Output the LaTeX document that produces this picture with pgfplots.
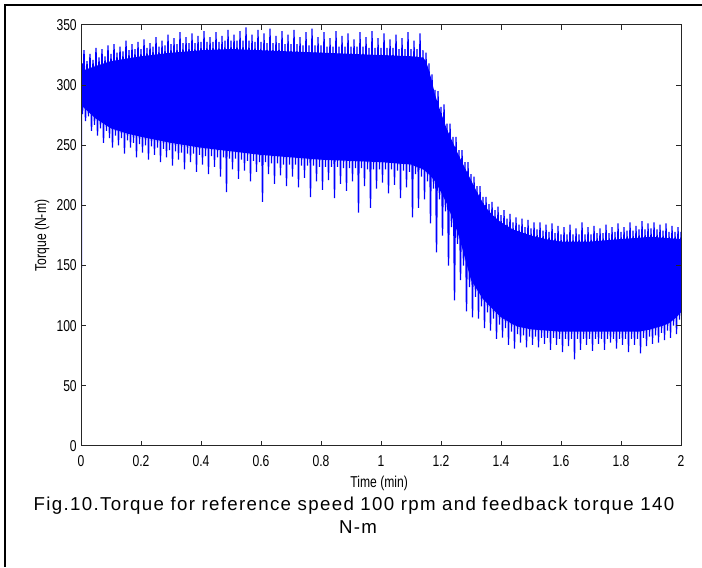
\documentclass[border=0pt]{standalone}
\usepackage{pgfplots}
\pgfplotsset{compat=1.18}
\usepgfplotslibrary{fillbetween}
\usepackage{fontspec}
\setmainfont{Liberation Sans}
\newfontfamily\narrowfont[FakeStretch=0.77]{Liberation Sans}
\newfontfamily\capfont[LetterSpace=7.2]{Liberation Sans}

\begin{document}
\begin{tikzpicture}
% page frame: 702 x 567 px at 0.75pt per px
\path (0,0) rectangle (526.5pt,425.25pt);
\fill (3pt,0) rectangle (4.5pt,422.25pt);
\fill (3pt,420.75pt) rectangle (526.5pt,422.25pt);
\begin{axis}[
    at={(60.75pt,90.75pt)}, anchor=south west,
    scale only axis, width=450pt, height=315.75pt,
    xmin=0, xmax=2, ymin=0, ymax=350,
    xtick={0,0.2,0.4,0.6,0.8,1,1.2,1.4,1.6,1.8,2},
    ytick={0,50,100,150,200,250,300,350},
    tick align=inside, xtick pos=both, ytick pos=both,
    major tick length=3.75pt,
    axis line style={line width=0.75pt, black!85},
    every tick/.style={black!85, line width=0.75pt},
    axis on top,
    /pgf/number format/assume math mode=true,
    tick label style={font=\narrowfont\fontsize{11.8pt}{12pt}\selectfont, inner sep=0pt},
    xticklabel style={anchor=base, yshift=-15.75pt},
    yticklabel style={anchor=east, xshift=-3pt},
    xlabel={Time (min)}, ylabel={Torque (N-m)},
    label style={font=\narrowfont\fontsize{11.8pt}{12pt}\selectfont},
    xlabel style={at={(axis description cs:0.497,-0.088)}, anchor=center},
    ylabel style={at={(axis description cs:-0.065,0.5)}, anchor=center},
]
% dense core of the band
\addplot[name path=UB, draw=none, forget plot] coordinates {
(0,0) (0.002,300) (0.005,312) (0.05,316) (0.1,320) (0.2,324) (0.3,327) (0.4,329) (0.5,330)
(0.6,329) (0.7,328) (0.8,327) (0.9,326) (1.0,325) (1.1,324) (1.14,323) (1.15,320) (1.16,312)
(1.17,303) (1.18,292) (1.2,277) (1.22,263) (1.24,252) (1.26,241) (1.28,231) (1.3,221) (1.32,211)
(1.34,202) (1.36,195) (1.38,190) (1.4,186) (1.44,180) (1.5,175) (1.55,172) (1.6,170) (1.7,170)
(1.8,172) (1.9,174) (1.95,173) (2.0,172)
};
\addplot[name path=LB, draw=none, forget plot] coordinates {
(0,0) (0.001,130) (0.003,290) (0.006,282) (0.01,281) (0.05,272) (0.1,264) (0.15,260) (0.2,257)
(0.3,252) (0.4,248) (0.5,245) (0.6,242) (0.7,240) (0.8,238) (0.9,237) (1.0,236) (1.1,234)
(1.12,232) (1.14,230) (1.16,226) (1.18,220) (1.2,211) (1.22,201) (1.24,188) (1.26,174) (1.28,156)
(1.3,138) (1.32,130) (1.34,122) (1.36,117) (1.38,112) (1.4,107) (1.42,104) (1.44,101) (1.46,99)
(1.5,97) (1.55,96) (1.6,95) (1.8,95) (1.86,95) (1.9,97) (1.94,100) (1.96,102) (1.98,106) (2.0,111)
};
\addplot[blue, forget plot] fill between[of=UB and LB];
% oscillating torque signal (bottom and top of each swing)
\addplot[blue, line width=1pt, line join=bevel] coordinates {
(0,0) (0.001,130) (0.002,300) (0.003,290) (0.004,318)
(0.005,276) (0.01,329) (0.015,270) (0.02,320) (0.025,274) (0.03,326) (0.035,262) (0.04,321) (0.045,267) (0.05,331)
(0.055,258) (0.06,323) (0.065,264) (0.07,330) (0.075,252) (0.08,324) (0.085,262) (0.09,333) (0.095,256) (0.10,326)
(0.105,248) (0.11,334) (0.115,258) (0.12,327) (0.125,250) (0.13,332) (0.135,256) (0.14,328) (0.145,243) (0.15,337)
(0.155,254) (0.16,329) (0.165,248) (0.17,334) (0.175,252) (0.18,330) (0.185,240) (0.19,336) (0.195,251) (0.20,330)
(0.205,244) (0.21,338) (0.215,250) (0.22,331) (0.225,238) (0.23,335) (0.235,249) (0.24,332) (0.245,242) (0.25,340)
(0.255,248) (0.26,332) (0.265,236) (0.27,337) (0.275,247) (0.28,333) (0.285,240) (0.29,342) (0.295,246) (0.30,334)
(0.305,233) (0.31,339) (0.315,245) (0.32,334) (0.325,238) (0.33,344) (0.335,244) (0.34,335) (0.345,230) (0.35,340)
(0.355,243) (0.36,335) (0.365,236) (0.37,343) (0.375,243) (0.38,335) (0.385,228) (0.39,341) (0.395,242) (0.40,336)
(0.405,234) (0.41,345) (0.415,241) (0.42,336) (0.425,226) (0.43,340) (0.435,241) (0.44,336) (0.445,232) (0.45,344)
(0.455,240) (0.46,336) (0.465,224) (0.47,341) (0.475,240) (0.48,337) (0.485,211) (0.49,346) (0.495,239) (0.50,337)
(0.505,230) (0.51,342) (0.515,239) (0.52,337) (0.525,222) (0.53,345) (0.535,238) (0.54,337) (0.545,229) (0.55,348)
(0.555,237) (0.56,337) (0.565,220) (0.57,342) (0.575,237) (0.58,336) (0.585,228) (0.59,346) (0.595,236) (0.60,336)
(0.605,203) (0.61,343) (0.615,236) (0.62,335) (0.625,226) (0.63,347) (0.635,235) (0.64,335) (0.645,218) (0.65,341)
(0.655,235) (0.66,335) (0.665,225) (0.67,345) (0.675,234) (0.68,334) (0.685,216) (0.69,342) (0.695,234) (0.70,334)
(0.705,224) (0.71,346) (0.715,234) (0.72,334) (0.725,215) (0.73,340) (0.735,233) (0.74,333) (0.745,223) (0.75,344)
(0.755,233) (0.76,333) (0.765,207) (0.77,347) (0.775,233) (0.78,333) (0.785,220) (0.79,340) (0.795,232) (0.80,333)
(0.805,213) (0.81,344) (0.815,232) (0.82,332) (0.825,221) (0.83,339) (0.835,232) (0.84,332) (0.845,206) (0.85,345)
(0.855,232) (0.86,332) (0.865,218) (0.87,341) (0.875,231) (0.88,332) (0.885,212) (0.89,343) (0.895,231) (0.90,332)
(0.905,220) (0.91,338) (0.915,231) (0.92,332) (0.925,194) (0.93,344) (0.935,231) (0.94,332) (0.945,216) (0.95,340)
(0.955,230) (0.96,331) (0.965,198) (0.97,345) (0.975,230) (0.98,331) (0.985,214) (0.99,339) (0.995,230) (1.00,331)
(1.005,219) (1.01,343) (1.015,230) (1.02,331) (1.025,210) (1.03,338) (1.035,230) (1.04,331) (1.045,217) (1.05,342)
(1.055,229) (1.06,330) (1.065,206) (1.07,339) (1.075,229) (1.08,330) (1.085,215) (1.09,344) (1.095,228) (1.10,330)
(1.105,190) (1.11,337) (1.115,226) (1.12,330) (1.125,198) (1.13,343) (1.135,224) (1.14,329) (1.145,205) (1.15,327)
(1.155,220) (1.16,318) (1.165,185) (1.17,309) (1.175,214) (1.18,296) (1.185,161) (1.19,295) (1.195,205) (1.20,282)
(1.205,175) (1.21,284) (1.215,195) (1.22,268) (1.225,150) (1.23,268) (1.235,182) (1.24,257) (1.245,121) (1.25,257)
(1.255,168) (1.26,246) (1.265,138) (1.27,246) (1.275,150) (1.28,236) (1.285,112) (1.29,236) (1.295,132) (1.30,226)
(1.305,107) (1.31,224) (1.315,124) (1.32,216) (1.325,106) (1.33,216) (1.335,116) (1.34,207) (1.345,98) (1.35,207)
(1.355,111) (1.36,201) (1.365,96) (1.37,203) (1.375,106) (1.38,196) (1.385,89) (1.39,199) (1.395,101) (1.40,192)
(1.405,90) (1.41,196) (1.415,98) (1.42,189) (1.425,84) (1.43,193) (1.435,95) (1.44,186) (1.445,81) (1.45,190)
(1.455,93) (1.46,184) (1.465,86) (1.47,189) (1.475,92) (1.48,182) (1.485,82) (1.49,188) (1.495,91) (1.50,181)
(1.505,84) (1.51,186) (1.515,91) (1.52,180) (1.525,82) (1.53,186) (1.535,90) (1.54,179) (1.545,85) (1.55,184)
(1.555,90) (1.56,178) (1.565,80) (1.57,185) (1.575,90) (1.58,177) (1.585,84) (1.59,183) (1.595,89) (1.60,176)
(1.605,78) (1.61,182) (1.615,89) (1.62,176) (1.625,83) (1.63,184) (1.635,89) (1.64,176) (1.645,72) (1.65,181)
(1.655,89) (1.66,176) (1.665,80) (1.67,186) (1.675,89) (1.68,176) (1.685,84) (1.69,182) (1.695,89) (1.70,176)
(1.705,79) (1.71,183) (1.715,89) (1.72,177) (1.725,85) (1.73,181) (1.735,89) (1.74,177) (1.745,80) (1.75,184)
(1.755,89) (1.76,177) (1.765,86) (1.77,182) (1.775,89) (1.78,178) (1.785,81) (1.79,185) (1.795,89) (1.80,178)
(1.805,84) (1.81,182) (1.815,89) (1.82,179) (1.825,78) (1.83,186) (1.835,89) (1.84,179) (1.845,84) (1.85,183)
(1.855,89) (1.86,180) (1.865,77) (1.87,187) (1.875,90) (1.88,180) (1.885,83) (1.89,185) (1.895,91) (1.90,181)
(1.905,85) (1.91,186) (1.915,92) (1.92,180) (1.925,86) (1.93,184) (1.935,94) (1.94,179) (1.945,88) (1.95,185)
(1.955,96) (1.96,178) (1.965,90) (1.97,183) (1.975,100) (1.98,178) (1.985,93) (1.99,182) (1.995,105) (2.00,178)
};
\end{axis}
\node[anchor=base, font=\capfont\fontsize{14pt}{17pt}\selectfont] at (265.5pt,42.75pt)
  {Fig.10.Torque for reference speed 100 rpm and feedback torque 140};
\node[anchor=base, font=\capfont\fontsize{14pt}{17pt}\selectfont] at (268.5pt,25.5pt) {N-m};
\end{tikzpicture}
\end{document}
